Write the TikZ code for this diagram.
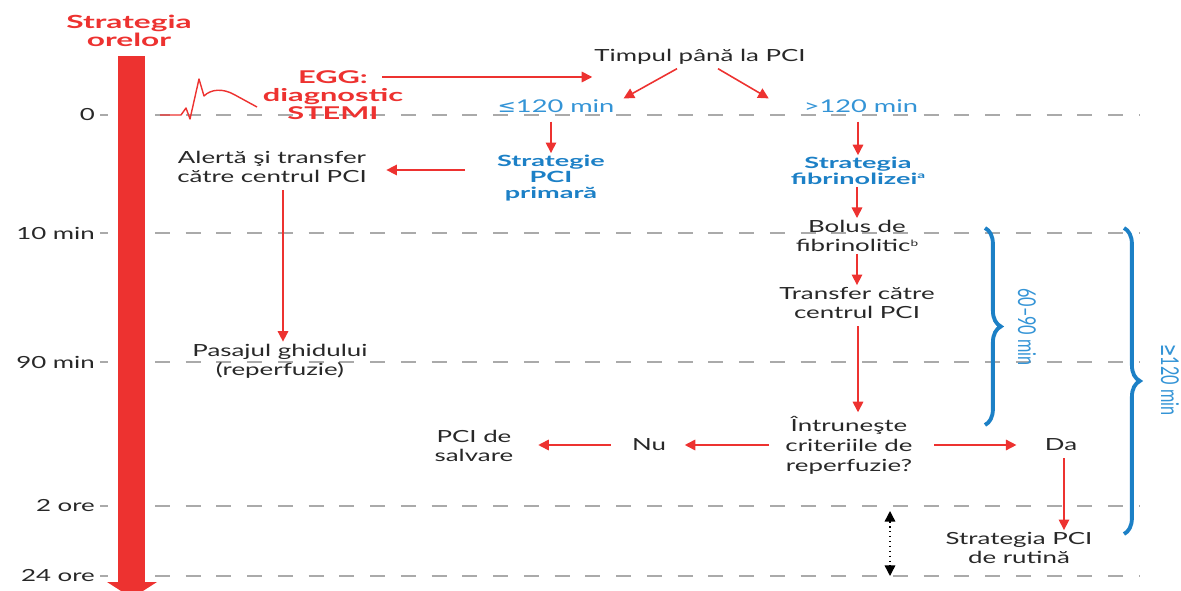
\documentclass[tikz,border=0pt]{standalone}
\usepackage{fontspec}
\setmainfont{Lato}[FakeStretch=1.55]
\newfontfamily\heavyfont{Lato}[FakeStretch=1.75]
\newfontfamily\narrowfont{Lato}[FakeStretch=0.66]
\newfontfamily\symfont{DejaVu Sans}[FakeStretch=1.25]
\newfontfamily\narrowsym{DejaVu Sans}[FakeStretch=0.6]
\usetikzlibrary{positioning,arrows.meta,calc,decorations.pathreplacing}
\definecolor{strred}{RGB}{237,50,48}
\definecolor{strblue}{RGB}{28,128,198}
\definecolor{strlabel}{RGB}{52,148,214}
\definecolor{strtext}{RGB}{40,40,40}
\definecolor{strgrid}{RGB}{170,170,170}
\newcommand{\notemark}[1]{\raisebox{3.2pt}{\fontsize{5}{5}\selectfont #1}}

\begin{document}
\begin{tikzpicture}[x=0.02cm, y=-0.02cm,
    every node/.style={font=\fontsize{9.5}{11}\selectfont, text=strtext, align=center, inner sep=1pt}]
  \tikzset{
    rarrow/.style={draw=strred, line width=0.9pt, -{Triangle[length=6pt,width=6pt]}},
    tline/.style={draw=strgrid, line width=0.85pt, dash pattern=on 8.5pt off 9pt},
    redbold/.style={text=strred, font=\heavyfont\bfseries\fontsize{10.3}{10}\selectfont},
    bluebold/.style={text=strblue, font=\heavyfont\bfseries\fontsize{8.8}{9}\selectfont},
    bluelab/.style={text=strlabel, font=\fontsize{10}{11}\selectfont},
    bracelab/.style={text=strlabel, font=\narrowfont\fontsize{14}{14}\selectfont},
    tlabel/.style={anchor=east},
    bracebar/.style={draw=strblue, line width=2.2pt, decorate, decoration={brace, amplitude=9pt}},
    dotarrow/.style={draw=black, line width=0.8pt, dotted, {Triangle[length=6pt,width=6pt]}-{Triangle[length=6pt,width=6pt]}}
  }
  \useasboundingbox (0,0) rectangle (1181,591);

  % time axis and grid lines
  \foreach \name/\ty/\lab in {t0/115/0, t10/233/10 min, t90/362/90 min, t2/506/2 ore, t24/576/24 ore}{
    \node[tlabel] (\name) at (97,\ty) {\lab};
    \draw[strgrid, line width=0.85pt] (100,\ty) -- (108,\ty);
    \draw[tline] (155,\ty) -- (1140,\ty);
  }
  \fill[strred] (118,56) rectangle (145,583);
  \fill[strred] (107,582) -- (157,582) -- (132,598) -- cycle;
  \node[redbold] (title) at (129,31) {Strategia\\orelor};

  % ECG trace
  \draw[strred, line width=0.8pt, line join=round] (160,115) -- (181,115) -- (186,108) -- (190,119)
    -- (199,79) -- (204,96) .. controls (211,89) and (223,88) .. (235,95) .. controls (246,101) .. (257,107);
  \node[redbold, font=\heavyfont\bfseries\fontsize{10}{10.2}\selectfont] (egg) at (333,95) {EGG:\\diagnostic\\STEMI};

  % decision on time to PCI
  \node (timp) at (700,57) {Timpul până la PCI};
  \node[bluelab] (le120) at (556,106) {{\symfont ≤}120 min};
  \node[bluelab] (gt120) at (861,106) {>120 min};
  \node[bluebold] (primara) at (551,178) {Strategie\\PCI\\primară};
  \node[bluebold] (fibrin) at (858,171) {Strategia\\fibrinolizei\notemark{a}};

  \path (egg.north) ++(49,0) coordinate (eggout);
  \draw[rarrow] (eggout |- 0,77) -- (timp.west |- 0,77);
  \draw[rarrow] ($(timp.south)+(-23,2)$) -- ($(le120.north east)+(7,1)$);
  \draw[rarrow] ($(timp.south)+(18,2)$) -- ($(gt120.north west)+(-33,1)$);
  \draw[rarrow, shorten <=4pt] (le120.south -| primara.north) -- (primara.north);
  \draw[rarrow, shorten <=4pt] (gt120.south -| fibrin.north) -- (fibrin.north);

  % primary PCI branch
  \node (alerta) at (272,167) {Alertă şi transfer\\către centrul PCI};
  \node (pasaj) at (280,361) {Pasajul ghidului\\(reperfuzie)};
  \draw[rarrow, shorten <=17pt, shorten >=10pt] (primara.west |- 0,170) -- (alerta.east |- 0,170);
  \draw[rarrow, shorten <=3pt] (alerta.south -| 283,0) -- (pasaj.north -| 283,0);

  % fibrinolysis branch
  \node (bolus) at (857,236) {Bolus de\\fibrinolitic\notemark{b}};
  \node (transfer) at (857,303) {Transfer către\\centrul PCI};
  \node[font=\fontsize{9.5}{11.3}\selectfont] (criterii) at (849,445) {Întruneşte\\criteriile de\\reperfuzie?};
  \node (nu) at (649,445) {Nu};
  \node (salvare) at (474,446) {PCI de\\salvare};
  \node (da) at (1061,445) {Da};
  \node (rutina) at (1019,548) {Strategia PCI\\de rutină};
  \draw[rarrow] (fibrin.south -| bolus.north) -- (bolus.north);
  \draw[rarrow] (bolus.south) -- (transfer.north);
  \draw[rarrow, shorten <=3pt, shorten >=1pt] (transfer.south -| 858,0) -- (criterii.north -| 858,0);
  \draw[rarrow, shorten <=8pt, shorten >=9.5pt] (criterii.west) -- (nu.east);
  \draw[rarrow, shorten <=11pt, shorten >=13pt] (nu.west) -- (salvare.east |- nu.west);
  \draw[rarrow, shorten <=11pt, shorten >=15pt] (criterii.east) -- (da.west);
  \draw[rarrow, shorten <=3pt] (da.south -| 1064,0) -- (rutina.north -| 1064,0);

  % interval between 2 and 24 hours
  \coordinate (dtop) at (890,511);
  \coordinate (dbot) at (890,576);
  \draw[dotarrow] (dtop) -- (dbot);

  % braces
  \coordinate (b1top) at (985,228);
  \coordinate (b1bot) at (985,425);
  \coordinate (b2top) at (1124,228);
  \coordinate (b2bot) at (1124,534);
  \draw[bracebar] (b1top) -- (b1bot);
  \draw[bracebar] (b2top) -- (b2bot);
  \node[bracelab, rotate=-90] (lab6090) at (1027,327) {60–90 min};
  \node[bracelab, rotate=-90] (lab120) at (1170,380) {{\narrowsym ≥}120 min};
\end{tikzpicture}
\end{document}
